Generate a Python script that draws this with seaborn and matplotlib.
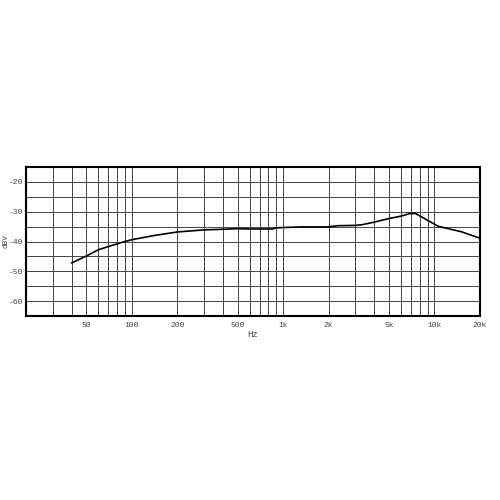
import matplotlib
matplotlib.use("Agg")
import matplotlib.pyplot as plt
import seaborn as sns
import pandas as pd
import numpy as np

# Frequency response data
freq_hz = [40, 50, 60, 70, 80, 90, 100, 140, 200, 300, 400, 500, 600, 850, 900,
           1300, 2000, 2300, 3000, 3300, 4000, 5000, 6000, 6900, 7500, 10600,
           15000, 20000]
level_dbv = [-47.2, -44.9, -42.8, -41.7, -40.8, -40.0, -39.4, -38.0, -36.8, -36.1,
             -35.9, -35.7, -35.8, -35.8, -35.4, -35.1, -35.1, -34.7, -34.6, -34.4,
             -33.5, -32.3, -31.5, -30.6, -30.6, -34.9, -36.7, -38.9]

x_ticks = [50, 100, 200, 500, 1000, 2000, 5000, 10000, 20000]
x_tick_labels = ["50", "100", "200", "500", "1k", "2k", "5k", "10k", "20k"]
y_ticks = [-20, -30, -40, -50, -60]
y_tick_labels = ["-20", "-30", "-40", "-50", "-60"]

df = pd.DataFrame({"Hz": freq_hz, "dBV": level_dbv})

sns.set_style("white")
plt.rcParams["font.family"] = ["Liberation Mono", "DejaVu Sans Mono"]

fig = plt.figure(figsize=(5, 5), dpi=100)
ax = fig.add_axes([0.052, 0.368, 0.908, 0.298])

# grid lines
minor_x = [m * 10 ** d for d in range(1, 5) for m in range(1, 10)]
minor_x = [v for v in minor_x if 20 < v < 20000]
for v in minor_x:
    ax.axvline(v, color="#444444", lw=0.7, zorder=1)
for v in np.arange(-60, -15, 5):
    ax.axhline(v, color="#444444", lw=0.7, zorder=1)

sns.lineplot(data=df, x="Hz", y="dBV", ax=ax, color="black", lw=1.2, zorder=3)

ax.set_xscale("log")
ax.set_xlim(20, 20000)
ax.set_ylim(-65, -15)
ax.set_xticks(x_ticks)
ax.set_xticklabels(x_tick_labels)
ax.minorticks_off()
ax.set_xticks([], minor=True)
ax.set_yticks(y_ticks)
ax.set_yticklabels(y_tick_labels)
ax.tick_params(axis="x", length=0, labelsize=5.8, colors="#444444", pad=4)
ax.tick_params(axis="y", length=0, labelsize=5.8, colors="#444444", pad=2)
ax.set_xlabel("Hz", fontsize=6.5, color="#444444", labelpad=1)
ax.set_ylabel("dBV", fontsize=5.5, color="#444444")
ax.yaxis.set_label_coords(-0.036, 0.5)

for s in ax.spines.values():
    s.set_visible(True)
    s.set_color("black")
    s.set_linewidth(1.5)
    s.set_zorder(4)

fig.savefig("out.png", dpi=100)
